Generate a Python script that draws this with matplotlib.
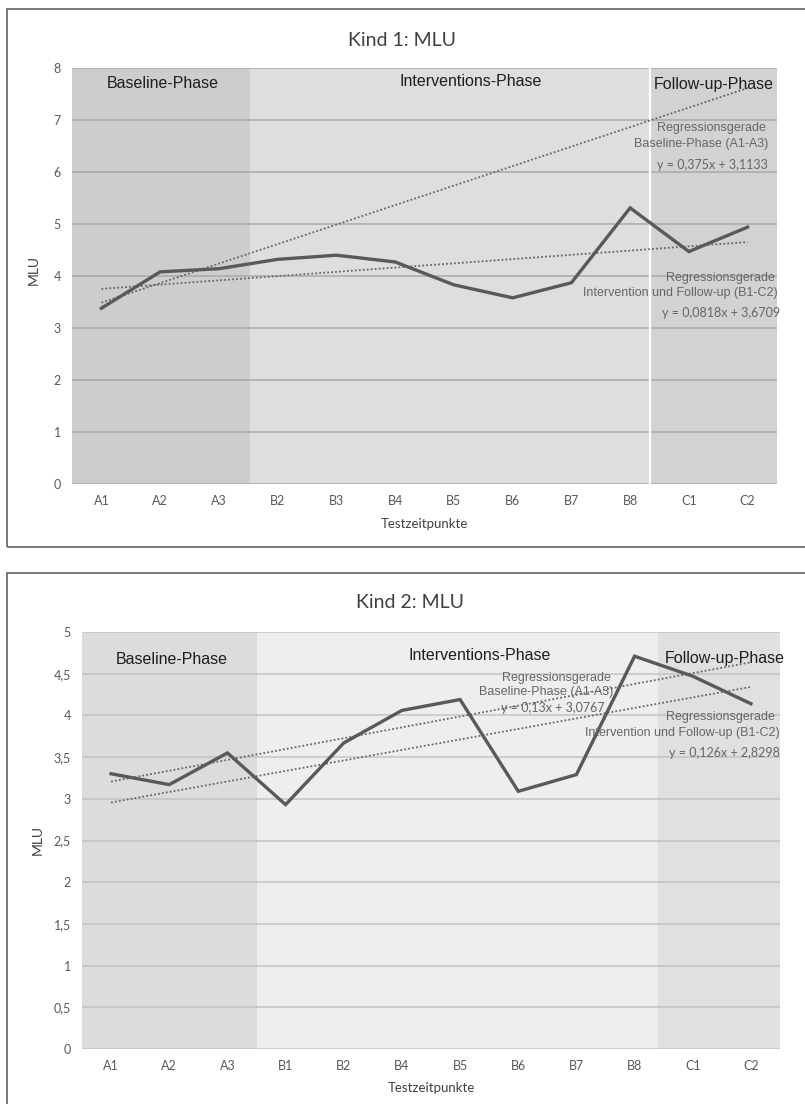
import matplotlib
matplotlib.use("Agg")
import matplotlib.pyplot as plt
from matplotlib.patches import Rectangle

# Kind 1
cats1 = ["A1", "A2", "A3", "B2", "B3", "B4", "B5", "B6", "B7", "B8", "C1", "C2"]
mlu1 = [3.38, 4.08, 4.14, 4.32, 4.40, 4.27, 3.83, 3.58, 3.87, 5.31, 4.47, 4.94]
ticks1 = [0, 1, 2, 3, 4, 5, 6, 7, 8]
ticklabels1 = ["0", "1", "2", "3", "4", "5", "6", "7", "8"]
reg1_base = (0.375, 3.1133)
reg1_int = (0.0818, 3.6709)

# Kind 2
cats2 = ["A1", "A2", "A3", "B1", "B2", "B4", "B5", "B6", "B7", "B8", "C1", "C2"]
mlu2 = [3.30, 3.17, 3.55, 2.93, 3.67, 4.06, 4.19, 3.09, 3.29, 4.71, 4.47, 4.14]
ticks2 = [0, 0.5, 1, 1.5, 2, 2.5, 3, 3.5, 4, 4.5, 5]
ticklabels2 = ["0", "0,5", "1", "1,5", "2", "2,5", "3", "3,5", "4", "4,5", "5"]
reg2_base = (0.13, 3.0767)
reg2_int = (0.126, 2.8298)

W, H = 805, 1104
fig = plt.figure(figsize=(W / 100, H / 100), dpi=100)
fig.patch.set_facecolor("white")

def px(x, y):
    return x / W, 1 - y / H

def ftext(x, y, s, **kw):
    fx, fy = px(x, y)
    fig.text(fx, fy, s, **kw)

CAL = ["Lato", "DejaVu Sans"]
ARI = ["Liberation Sans", "DejaVu Sans"]

# outer frames
for (y0, y1) in [(9, 547), (573, 1112)]:
    fx, fy = px(7, y1)
    fig.patches.append(Rectangle((fx, fy), (815 - 7) / W, (y1 - y0) / H,
                                 transform=fig.transFigure, fill=False,
                                 edgecolor="#6e6e6e", lw=1.3))


def panel(left, top, right, bottom, cats, vals, ticks, ticklabels, ymax,
          spans, regs, grid_col, divider=None):
    fx, fy = px(left, bottom)
    ax = fig.add_axes([fx, fy, (right - left) / W, (bottom - top) / H])
    x = list(range(len(cats)))
    for (a, b, c) in spans:
        ax.axvspan(a, b, color=c, lw=0, zorder=0)
    if divider is not None:
        ax.axvline(divider, color="white", lw=1.6, zorder=1.6)
    for m, c in regs:
        ax.plot([0, len(cats) - 1], [m * 1 + c, m * len(cats) + c],
                color="#666666", lw=1.3, ls=(0, (1, 1.2)), zorder=2)
    ax.plot(x, vals, color="#595959", lw=2.4, zorder=3, solid_joinstyle="miter")
    ax.set_xlim(-0.5, len(cats) - 0.5)
    ax.set_ylim(0, ymax)
    ax.set_yticks(ticks)
    ax.set_yticklabels(ticklabels, family=CAL, fontsize=9, color="#595959")
    ax.set_xticks(x)
    ax.set_xticklabels(cats, family=CAL, fontsize=9, color="#595959")
    ax.tick_params(length=0, pad=8)
    ax.yaxis.grid(True, color=grid_col, lw=1.1)
    for s in ax.spines.values():
        s.set_visible(False)
    ax.set_facecolor("none")
    return ax


# top chart
ax1 = panel(72, 68, 777, 484, cats1, mlu1, ticks1, ticklabels1, 8,
            [(-0.5, 2.53, "#cdcdcd"), (2.53, 9.34, "#dedede"), (9.34, 11.5, "#d2d2d2")],
            [reg1_base, reg1_int], "#a9a9a9", divider=9.34)
ftext(402, 40, "Kind 1: MLU", family=CAL, fontsize=14, color="#404040", ha="center", va="center")
ftext(34, 270, "MLU", family=CAL, fontsize=10, color="#404040", rotation=90, ha="center", va="center")
ftext(424, 524, "Testzeitpunkte", family=CAL, fontsize=9.5, color="#404040", ha="center", va="center")
ftext(163, 84, "Baseline-Phase", family=ARI, fontsize=11.5, color="#1e1e1e", ha="center", va="center")
ftext(471, 82, "Interventions-Phase", family=ARI, fontsize=11.5, color="#1e1e1e", ha="center", va="center")
ftext(714, 85, "Follow-up-Phase", family=ARI, fontsize=11.5, color="#1e1e1e", ha="center", va="center")
ftext(766, 128, "Regressionsgerade", family=ARI, fontsize=9, color="#666666", ha="right", va="center")
ftext(768, 144, "Baseline-Phase (A1-A3)", family=ARI, fontsize=9, color="#666666", ha="right", va="center")
ftext(768, 165, "y = 0,375x + 3,1133", family=CAL, fontsize=9, color="#666666", ha="right", va="center")
ftext(775, 278, "Regressionsgerade", family=ARI, fontsize=9, color="#666666", ha="right", va="center")
ftext(778, 293, "Intervention und Follow-up (B1-C2)", family=ARI, fontsize=9, color="#666666", ha="right", va="center")
ftext(780, 313, "y = 0,0818x + 3,6709", family=CAL, fontsize=9, color="#666666", ha="right", va="center")

# bottom chart
ax2 = panel(82, 632, 780, 1049, cats2, mlu2, ticks2, ticklabels2, 5,
            [(-0.5, 2.5, "#dcdcdc"), (2.5, 9.4, "#eeeeee"), (9.4, 11.5, "#e0e0e0")],
            [reg2_base, reg2_int], "#c3c3c3")
ftext(410, 603, "Kind 2: MLU", family=CAL, fontsize=14, color="#404040", ha="center", va="center")
ftext(38, 840, "MLU", family=CAL, fontsize=10, color="#404040", rotation=90, ha="center", va="center")
ftext(431, 1088, "Testzeitpunkte", family=CAL, fontsize=9.5, color="#404040", ha="center", va="center")
ftext(172, 660, "Baseline-Phase", family=ARI, fontsize=11.5, color="#1e1e1e", ha="center", va="center")
ftext(480, 655, "Interventions-Phase", family=ARI, fontsize=11.5, color="#1e1e1e", ha="center", va="center")
ftext(725, 658, "Follow-up-Phase", family=ARI, fontsize=11.5, color="#1e1e1e", ha="center", va="center")
ftext(556, 678, "Regressionsgerade", family=ARI, fontsize=9, color="#666666", ha="center", va="center")
ftext(546, 692, "Baseline-Phase (A1-A3)", family=ARI, fontsize=9, color="#666666", ha="center", va="center")
ftext(553, 708, "y = 0,13x + 3,0767", family=CAL, fontsize=9, color="#666666", ha="center", va="center")
ftext(775, 717, "Regressionsgerade", family=ARI, fontsize=9, color="#666666", ha="right", va="center")
ftext(780, 733, "Intervention und Follow-up (B1-C2)", family=ARI, fontsize=9, color="#666666", ha="right", va="center")
ftext(780, 753, "y = 0,126x + 2,8298", family=CAL, fontsize=9, color="#666666", ha="right", va="center")

fig.savefig("out.png", dpi=100)
